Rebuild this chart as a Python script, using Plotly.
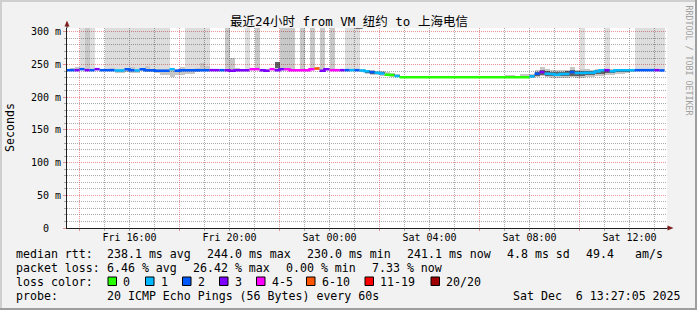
import plotly.graph_objects as go

# ---------------- data (hours counted from Fri 00:00) ----------------
FIRST_BIN_HOUR = 13.4
BIN_HOURS = 0.2

median_ms = [
    241.5, 241.5, 241.5, 243, 241.5, 241.5, 243, 241.5, 241.5, 241.5,
    241, 241, 243, 241.5, 241, 243, 241.5, 241.5, 240.5, 240.5,
    240.5, 243, 240.5, 241.5, 241.5, 241.5, 241.5, 241.5, 241.5, 241.5,
    241.5, 241.5, 241.5, 240.5, 241.5, 241.5, 241.5, 243, 243, 241.5,
    240.5, 243, 241.5, 243, 243, 241.5, 241.5, 241.5, 241.5, 243,
    244, 240.5, 243, 241.5, 241.5, 241.5, 241.5, 241.5, 241.5, 241,
    240, 238.5, 237.5, 236.5, 234.5, 234, 232.5, 230.5, 230.5, 230.5,
    230.5, 230.5, 230.5, 230.5, 230.5, 230.5, 230.5, 230.5, 230.5, 230.5,
    230.5, 230.5, 230.5, 230.5, 230.5, 230.5, 230.5, 230.5, 230.5, 230.5,
    230.5, 230.5, 230.5, 232, 236, 238.5, 236, 235.5, 234.5, 235.5,
    235.5, 238.5, 237, 237, 237.5, 237.5, 239.5, 241.3, 241.5, 240,
    241.5, 241.5, 241.5, 241.5, 241.5, 241.5, 241.5, 241.5, 241.5, 241.1,
]

# index into loss_colors / loss_labels
loss_idx = [
    2, 2, 3, 2, 3, 2, 3, 2, 2, 2,
    1, 1, 2, 2, 1, 2, 2, 2, 2, 2,
    2, 1, 2, 2, 2, 2, 2, 2, 2, 3,
    3, 2, 3, 3, 3, 3, 3, 4, 4, 3,
    3, 4, 3, 3, 4, 4, 4, 4, 4, 4,
    5, 3, 3, 4, 4, 3, 2, 1, 2, 1,
    1, 2, 1, 1, 0, 0, 1, 0, 0, 0,
    0, 0, 0, 0, 0, 0, 0, 0, 0, 0,
    0, 0, 0, 0, 0, 0, 0, 0, 0, 0,
    0, 0, 0, 1, 2, 3, 1, 1, 1, 1,
    1, 2, 1, 1, 1, 1, 1, 1, 3, 1,
    1, 1, 1, 1, 2, 2, 2, 2, 3, 2,
]

smoke_lo = [
    240, 240, 240, 241, 240, 240, 241, 240, 240, 240,
    237, 237, 239, 236.5, 236.5, 240, 238, 238, 237, 234,
    234, 230.5, 234, 234, 236, 236, 239, 240, 240, 240,
    240, 240, 240, 239, 240, 240, 240, 241, 241, 240,
    239, 241, 240, 241, 241, 240, 240, 240, 240, 241,
    242, 239, 241, 240, 240, 240, 240, 240, 240, 238,
    236, 234.5, 234, 233, 232, 231.5, 230.5, 229.5, 229.5, 229.5,
    229.5, 229.5, 229.5, 229.5, 229.5, 229.5, 229.5, 229.5, 229.5, 229.5,
    229.5, 229.5, 229.5, 229.5, 229.5, 229.5, 229.5, 229.5, 229.5, 229.5,
    229.5, 229.5, 229.5, 230, 231, 232, 231, 230, 229.5, 230,
    230, 231, 230, 230, 230.5, 231, 232, 233, 234, 234.5,
    236, 236, 237.5, 238, 240, 240, 240, 240, 240, 240,
]

smoke_hi = [
    243, 245, 247, 245, 243, 243, 245, 243, 243, 245,
    243, 243, 245, 247, 243, 245, 248, 243, 243, 243,
    243, 245, 243, 246, 243, 243, 245, 252, 248, 243,
    243, 243, 243, 260, 245, 243, 243, 245, 245, 243,
    243, 245, 254.5, 245, 245, 245, 243, 243, 243, 245,
    246, 243, 245, 243, 243, 243, 243, 243, 243, 243,
    242.5, 241, 240, 239.5, 238, 236.5, 235, 231.5, 231.5, 231.5,
    231.5, 231.5, 231.5, 231.5, 231.5, 231.5, 231.5, 231.5, 231.5, 231.5,
    231.5, 231.5, 231.5, 231.5, 231.5, 231.5, 231.5, 231.5, 234, 234,
    233, 235, 236, 236, 241, 246.5, 243, 242, 241, 241.5,
    242, 246.5, 242, 243, 243, 242.5, 243, 244, 244, 243.5,
    243.5, 243, 243, 243, 243, 243, 243, 243, 243, 243,
]

N = None
core_lo = [
    N, N, N, N, N, N, N, N, N, N,
    N, N, N, N, N, N, N, N, N, N,
    N, N, N, N, N, N, N, N, N, N,
    N, N, N, N, N, N, N, N, N, N,
    N, N, 244.5, N, N, N, N, N, N, N,
    N, N, N, N, N, N, N, N, N, 239.5,
    237.5, 236, 235.5, 235, 233, 232.5, 231.5, N, N, N,
    N, N, N, N, N, N, N, N, N, N,
    N, N, N, N, N, N, N, N, N, N,
    N, N, N, 231, 233, 234, 233, 232, 232, 232.5,
    232.5, 233, 233, 233, 233.5, 234, 235, 236, 237, 237,
    238.5, 238.5, 239, N, N, N, N, N, N, N,
]
core_hi = [
    N, N, N, N, N, N, N, N, N, N,
    N, N, N, N, N, N, N, N, N, N,
    N, N, N, N, N, N, N, N, N, N,
    N, N, N, N, N, N, N, N, N, N,
    N, N, 254.5, N, N, N, N, N, N, N,
    N, N, N, N, N, N, N, N, N, 242.5,
    241.5, 240, 239, 238, 236, 235.5, 234, N, N, N,
    N, N, N, N, N, N, N, N, N, N,
    N, N, N, N, N, N, N, N, N, N,
    N, N, N, 234, 239, 241, 240, 239, 238, 239,
    239.5, 241, 240, 240.5, 240.5, 240.5, 241.5, 243, 243, 242,
    243, 242.5, 242.5, N, N, N, N, N, N, N,
]

# 0 = none, 1 = some pings above the graph, 2 = more pings above the graph
outlier_level = [
    0, 0, 0, 1, 2, 1, 0, 0, 1, 1,
    1, 1, 1, 1, 1, 1, 1, 1, 1, 1,
    1, 0, 0, 0, 1, 1, 1, 1, 1, 0,
    0, 0, 2, 0, 0, 0, 1, 0, 2, 0,
    0, 0, 0, 2, 2, 2, 0, 2, 0, 2,
    0, 2, 0, 2, 0, 0, 1, 1, 1, 0,
    0, 0, 0, 0, 0, 0, 0, 0, 0, 0,
    0, 0, 0, 0, 0, 0, 0, 0, 0, 0,
    0, 0, 0, 0, 0, 0, 0, 0, 0, 0,
    0, 0, 0, 0, 0, 0, 0, 0, 0, 0,
    0, 0, 0, 1, 0, 0, 0, 0, 1, 0,
    0, 0, 0, 0, 1, 1, 1, 1, 1, 1,
]

loss_colors = ['#26ff00', '#00b8ff', '#0059ff', '#7e00ff', '#ff00ff', '#ff5500', '#ff0000', '#a10000']
loss_labels = ['0', '1', '2', '3', '4-5', '6-10', '11-19', '20/20']

label_hours = [16, 20, 24, 28, 32, 36]
label_text = ['Fri 16:00', 'Fri 20:00', 'Sat 00:00', 'Sat 04:00', 'Sat 08:00', 'Sat 12:00']
major_hours = [14, 18, 22, 26, 30, 34]
minor_hours = [h for h in range(14, 38) if h not in major_hours]
x_range = [13.5, 37.5]

y_ticks = [0, 50, 100, 150, 200, 250, 300]
y_ticktext = ['0\u00a0\u00a0', '50 m', '100 m', '150 m', '200 m', '250 m', '300 m']
y_minor = [v for v in range(10, 310, 10) if v % 50]
y_range = [0, 306]

title_text = '最近24小时 from VM_纽约 to 上海电信'
rtt_stats = [('median rtt:', 16), ('238.1 ms avg', 107), ('244.0 ms max', 207),
             ('230.0 ms min', 307), ('241.1 ms now', 407), ('4.8 ms sd', 507),
             ('49.4', 586), ('am/s', 635)]
loss_stats = [('packet loss:', 16), ('6.46 % avg', 107), ('26.42 % max', 193),
              ('0.00 % min', 286), ('7.33 % now', 372)]
loss_box_x = [108, 145.5, 182.5, 219.5, 256.5, 306.5, 365, 431]
probe_text = '20 ICMP Echo Pings (56 Bytes) every 60s'
date_text = 'Sat Dec\u00a0\u00a06 13:27:05 2025'

# ---------------- styling helpers ----------------
MONO = 'DejaVu Sans Mono, Noto Sans CJK SC, monospace'
L, T, W, H = 67, 28, 600, 200
FIG_W, FIG_H = 697, 310


def px_x(px):
    return (px - L) / W


def px_y(py):
    return (T + H - py) / H


annotations = []


def text(px, py, s, size=11.6, anchor='left', color='#000000', angle=0, yanchor='middle'):
    annotations.append(dict(
        x=px_x(px), y=px_y(py), xref='paper', yref='paper', text=s, showarrow=False,
        xanchor=anchor, yanchor=yanchor, textangle=angle, borderpad=0, borderwidth=0,
        font=dict(family=MONO, size=size, color=color)))


# ---------------- traces ----------------
n = len(median_ms)
starts = [FIRST_BIN_HOUR + BIN_HOURS * i for i in range(n)]
centers = [s + BIN_HOURS / 2 for s in starts]

fig = go.Figure()

# smoke for pings above the visible range
for level, col in [(1, 'rgba(0,0,0,0.135)'), (2, 'rgba(0,0,0,0.215)')]:
    idx = [i for i in range(n) if outlier_level[i] == level]
    fig.add_trace(go.Bar(
        x=[centers[i] for i in idx], base=[smoke_hi[i] for i in idx],
        y=[400 - smoke_hi[i] for i in idx], width=BIN_HOURS,
        marker=dict(color=col, line=dict(width=0)), hoverinfo='skip'))

# outer smoke
fig.add_trace(go.Bar(
    x=centers, base=smoke_lo, y=[h - l for h, l in zip(smoke_hi, smoke_lo)], width=BIN_HOURS,
    marker=dict(color='rgba(0,0,0,0.22)', line=dict(width=0)), hoverinfo='skip'))

# dense smoke core
idx = [i for i in range(n) if core_lo[i] is not None]
fig.add_trace(go.Bar(
    x=[centers[i] for i in idx], base=[core_lo[i] for i in idx],
    y=[core_hi[i] - core_lo[i] for i in idx], width=BIN_HOURS,
    marker=dict(color='rgba(0,0,0,0.5)', line=dict(width=0)), hoverinfo='skip'))

# median line coloured by loss
for c, col in enumerate(loss_colors):
    xs, ys = [], []
    i = 0
    while i < n:
        if loss_idx[i] == c:
            j = i
            while j < n and loss_idx[j] == c:
                j += 1
            for k in range(i, j):
                xs.append(starts[k])
                ys.append(median_ms[k])
            xs.append(starts[j - 1] + BIN_HOURS)
            ys.append(median_ms[j - 1])
            xs.append(None)
            ys.append(None)
            i = j
        else:
            i += 1
    if xs:
        fig.add_trace(go.Scatter(x=xs, y=ys, mode='lines', connectgaps=False,
                                 line=dict(color=col, width=2.5, shape='hv'), hoverinfo='skip'))

# empty trace to host the grid axis
fig.add_trace(go.Scatter(x=[], y=[], xaxis='x2', yaxis='y', hoverinfo='skip'))

# ---------------- layout ----------------
GRID = 'rgba(143,143,143,0.75)'
MGRID = 'rgba(222,80,80,0.6)'
AXIS = '#1f1f1f'

fig.update_layout(
    width=FIG_W, height=FIG_H,
    margin=dict(l=L, r=FIG_W - L - W, t=T, b=FIG_H - T - H, pad=0),
    paper_bgcolor='#f2f2f2', plot_bgcolor='#ffffff',
    barmode='overlay', bargap=0, showlegend=False,
    xaxis=dict(range=x_range, tickmode='array', tickvals=label_hours, ticktext=label_text,
               showgrid=False, zeroline=False, ticks='', showline=True, linecolor=AXIS,
               linewidth=1, tickfont=dict(family=MONO, size=10, color='#000000'), fixedrange=True),
    xaxis2=dict(range=x_range, overlaying='x', anchor='y', side='bottom', tickmode='array',
                tickvals=major_hours, showticklabels=False, showgrid=True, gridcolor=MGRID,
                griddash='1px,1px', gridwidth=1, zeroline=False, ticks='outside', ticklen=2,
                tickcolor=MGRID, showline=False,
                minor=dict(tickmode='array', tickvals=minor_hours, showgrid=True, gridcolor=GRID,
                           griddash='1px,1px', gridwidth=1, ticks='outside', ticklen=2,
                           tickcolor=GRID)),
    yaxis=dict(range=y_range, tickmode='array', tickvals=y_ticks, ticktext=y_ticktext,
               showgrid=True, gridcolor=MGRID, griddash='1px,1px', gridwidth=1, zeroline=False,
               ticks='outside', ticklen=3, tickcolor=MGRID, showline=True, linecolor=AXIS,
               linewidth=1, tickfont=dict(family=MONO, size=10, color='#000000'),
               minor=dict(tickmode='array', tickvals=y_minor, showgrid=True, gridcolor=GRID,
                          griddash='1px,1px', gridwidth=1, ticks='outside', ticklen=2,
                          tickcolor=GRID),
               fixedrange=True),
)

# title, axis title, watermark
text(348.5, 21, title_text, size=12.5, anchor='center')
text(10, 128, 'Seconds', size=11.6, anchor='center', angle=-90)
text(688.5, 60, 'RRDTOOL / TOBI OETIKER', size=8.3, anchor='center', angle=90, color='#a0a0a0')

# legend rows
for s, x in rtt_stats:
    text(x, 254.3, s)
for s, x in loss_stats:
    text(x, 268.2, s)
text(16, 282, 'loss color:')
shapes = []
for bx, col, lab in zip(loss_box_x, loss_colors, loss_labels):
    shapes.append(dict(type='rect', xref='paper', yref='paper', x0=px_x(bx), x1=px_x(bx + 8.5),
                       y0=px_y(285.5), y1=px_y(277), fillcolor=col,
                       line=dict(color='#000000', width=1)))
    text(bx + 15, 282, lab)
text(16, 295.8, 'probe:')
text(107, 295.8, probe_text)
text(680.5, 295.8, date_text, anchor='right')

# frame (3D border)
for (x0, y0, x1, y1, col) in [(0, 0, FIG_W, 2, '#cfcfcf'), (0, 0, 2, FIG_H, '#cfcfcf'),
                              (0, FIG_H - 2, FIG_W, FIG_H, '#9e9e9e'),
                              (FIG_W - 2, 0, FIG_W, FIG_H, '#9e9e9e')]:
    shapes.append(dict(type='rect', xref='paper', yref='paper', x0=px_x(x0), x1=px_x(x1),
                       y0=px_y(y1), y1=px_y(y0), fillcolor=col, line=dict(width=0), layer='above'))

# axis extensions and arrows
ARROW = '#801f1f'
shapes.append(dict(type='line', xref='paper', yref='paper', x0=0, x1=0, y0=1, y1=px_y(24),
                   line=dict(color=AXIS, width=1)))
shapes.append(dict(type='line', xref='paper', yref='paper', x0=1, x1=px_x(669), y0=0, y1=0,
                   line=dict(color=AXIS, width=1)))
shapes.append(dict(type='path', xref='paper', yref='paper',
                   path='M {},{} L {},{} L {},{} Z'.format(px_x(64.5), px_y(26.5), px_x(69.5), px_y(26.5),
                                                          px_x(67), px_y(20.5)),
                   fillcolor=ARROW, line=dict(width=0)))
shapes.append(dict(type='path', xref='paper', yref='paper',
                   path='M {},{} L {},{} L {},{} Z'.format(px_x(667.5), px_y(225.5), px_x(667.5), px_y(230.5),
                                                          px_x(673.5), px_y(228)),
                   fillcolor=ARROW, line=dict(width=0)))

fig.update_layout(shapes=shapes, annotations=annotations)

fig.write_html('out.html')
